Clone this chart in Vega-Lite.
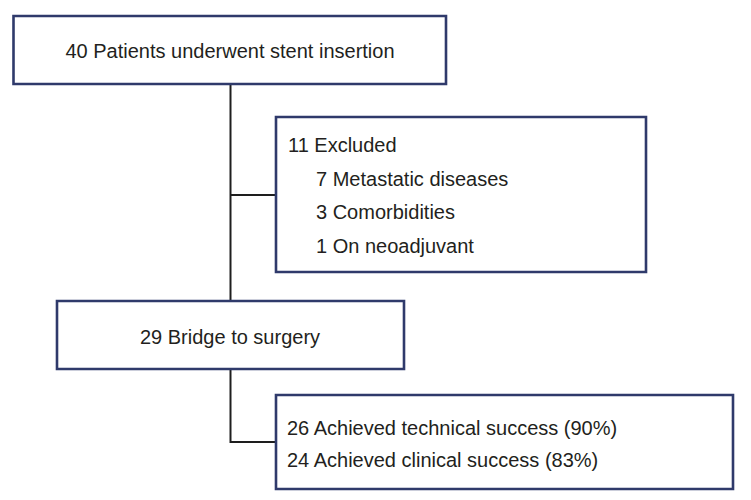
{
  "$schema": "https://vega.github.io/schema/vega-lite/v6.json",
  "width": 751,
  "height": 500,
  "padding": 0,
  "autosize": "none",
  "background": "white",
  "config": {"view": {"stroke": null}},
  "datasets": {
    "boxes": [
      {"id": "start", "x1": 13.5, "x2": 446, "y1": 16, "y2": 84},
      {"id": "excluded", "x1": 276, "x2": 646, "y1": 117, "y2": 272},
      {"id": "bridge", "x1": 57, "x2": 404, "y1": 301, "y2": 369},
      {"id": "success", "x1": 276, "x2": 733, "y1": 395, "y2": 489}
    ],
    "links": [
      {"x1": 230.5, "x2": 230.5, "y1": 84, "y2": 301},
      {"x1": 230.5, "x2": 276, "y1": 195, "y2": 195},
      {"x1": 230.5, "x2": 230.5, "y1": 369, "y2": 443},
      {"x1": 230.5, "x2": 276, "y1": 442, "y2": 442}
    ],
    "centerText": [
      {"label": "40 Patients underwent stent insertion", "x": 230, "y": 50},
      {"label": "29 Bridge to surgery", "x": 230, "y": 336}
    ],
    "leftText": [
      {"label": "11 Excluded", "x": 288, "y": 144},
      {"label": "7 Metastatic diseases", "x": 316, "y": 178},
      {"label": "3 Comorbidities", "x": 316, "y": 211},
      {"label": "1 On neoadjuvant", "x": 316, "y": 245},
      {"label": "26 Achieved technical success (90%)", "x": 287, "y": 427},
      {"label": "24 Achieved clinical success (83%)", "x": 287, "y": 459}
    ]
  },
  "layer": [
    {
      "data": {"name": "links"},
      "mark": {"type": "rule", "color": "#1e1e1e", "strokeWidth": 2},
      "encoding": {
        "x": {"field": "x1", "type": "quantitative", "scale": {"domain": [0, 751], "nice": false, "zero": false}, "axis": null},
        "x2": {"field": "x2"},
        "y": {"field": "y1", "type": "quantitative", "scale": {"domain": [0, 500], "nice": false, "zero": false, "reverse": true}, "axis": null},
        "y2": {"field": "y2"}
      }
    },
    {
      "data": {"name": "boxes"},
      "mark": {"type": "rect", "fill": "white", "stroke": "#2f3a6b", "strokeWidth": 2.6},
      "encoding": {
        "x": {"field": "x1", "type": "quantitative", "scale": {"domain": [0, 751], "nice": false, "zero": false}, "axis": null},
        "x2": {"field": "x2"},
        "y": {"field": "y1", "type": "quantitative", "scale": {"domain": [0, 500], "nice": false, "zero": false, "reverse": true}, "axis": null},
        "y2": {"field": "y2"}
      }
    },
    {
      "data": {"name": "centerText"},
      "mark": {"type": "text", "align": "center", "baseline": "middle", "dy": 1.5, "font": "Liberation Sans", "fontSize": 20, "color": "#231f20"},
      "encoding": {
        "x": {"field": "x", "type": "quantitative", "scale": {"domain": [0, 751], "nice": false, "zero": false}, "axis": null},
        "y": {"field": "y", "type": "quantitative", "scale": {"domain": [0, 500], "nice": false, "zero": false, "reverse": true}, "axis": null},
        "text": {"field": "label"}
      }
    },
    {
      "data": {"name": "leftText"},
      "mark": {"type": "text", "align": "left", "baseline": "middle", "dy": 1.5, "font": "Liberation Sans", "fontSize": 20, "color": "#231f20"},
      "encoding": {
        "x": {"field": "x", "type": "quantitative", "scale": {"domain": [0, 751], "nice": false, "zero": false}, "axis": null},
        "y": {"field": "y", "type": "quantitative", "scale": {"domain": [0, 500], "nice": false, "zero": false, "reverse": true}, "axis": null},
        "text": {"field": "label"}
      }
    }
  ]
}
